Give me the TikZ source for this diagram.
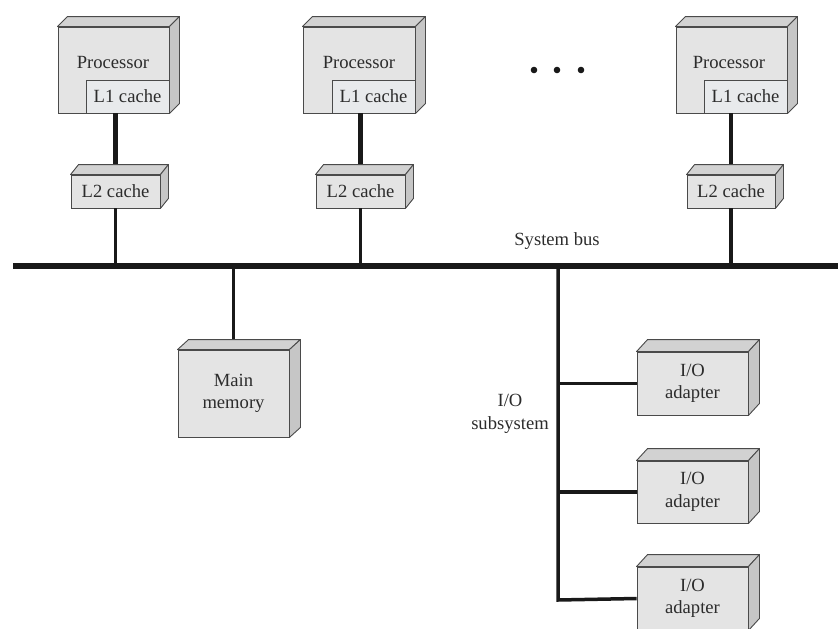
\documentclass[tikz,border=0pt]{standalone}
\usepackage{fontspec}
\setmainfont{Liberation Serif}
\usetikzlibrary{calc}

\definecolor{facefront}{HTML}{E4E4E4}
\definecolor{facetop}{HTML}{D2D2D2}
\definecolor{faceside}{HTML}{C6C6C6}
\definecolor{cachefill}{HTML}{E8EAEC}
\definecolor{edgegray}{HTML}{4A4A4A}
\definecolor{inkgray}{HTML}{2C2C2C}

\tikzset{
  unitbox/.style 2 args={draw=edgegray, fill=facefront, line width=0.9pt,
    inner sep=0pt, minimum width=#1pt, minimum height=#2pt},
  cachebox/.style={unitbox={83}{33}, fill=cachefill},
  topface/.style={draw=edgegray, fill=facetop, line width=0.9pt, line join=round},
  sideface/.style={draw=edgegray, fill=faceside, line width=0.9pt, line join=round},
  label/.style={text=inkgray, font=\fontsize{18.6}{22.5}\selectfont, align=center, inner sep=0pt},
  wire/.style={line width=3.5pt, draw=black!90},
  heavywire/.style={line width=4.2pt, draw=black!90},
  bus/.style={line width=6.5pt, draw=black!90},
}

\begin{document}
\begin{tikzpicture}[x=1pt, y=-1pt]
  \useasboundingbox (0,0) rectangle (838,629);

  % anchor points of the system bus and the I/O subsystem trunk
  \coordinate (busL) at (13,266);
  \coordinate (busR) at (838,266);
  \coordinate (ioTop) at (558,266);
  \coordinate (ioBot) at (558,600);

  % processors (front faces)
  \node[unitbox={111}{86}] (p1) at (113.5,70) {};
  \node[unitbox={112}{86}] (p2) at (359,70) {};
  \node[unitbox={111}{86}] (p3) at (731.5,70) {};

  % L1 caches sit in the lower right corner of each processor
  \node[cachebox, anchor=south east] (c1a) at (p1.south east) {};
  \node[cachebox, anchor=south east] (c1b) at (p2.south east) {};
  \node[cachebox, anchor=south east] (c1c) at (p3.south east) {};

  % L2 caches
  \node[unitbox={89}{33}] (l2a) at (115.5,191.5) {};
  \node[unitbox={89}{33}] (l2b) at (360.5,191.5) {};
  \node[unitbox={88}{33}] (l2c) at (731,191.5) {};

  % main memory and I/O adapters
  \node[unitbox={111}{87}] (mem) at (233.5,393.5) {};
  \node[unitbox={111}{63}] (io1) at (692.5,383.5) {};
  \node[unitbox={111}{62}] (io2) at (692.5,492) {};
  \node[unitbox={111}{63}] (io3) at (692.5,598.5) {};

  % connectors
  \draw[heavywire] (l2a.north) -- (l2a.north |- c1a.south);
  \draw[heavywire] (l2b.north) -- (l2b.north |- c1b.south);
  \draw[heavywire] (l2c.north) -- (l2c.north |- c1c.south);
  \draw[wire] (l2a.south) -- (l2a.south |- busL);
  \draw[wire] (l2b.south) -- (l2b.south |- busL);
  \draw[wire] (l2c.south) -- (l2c.south |- busL);
  \draw[wire] (mem.north) -- (mem.north |- busL);
  \draw[wire, line join=miter] (ioTop) -- (ioBot) -- (io3.west);
  \draw[wire] (ioTop |- io1.west) -- (io1.west);
  \draw[wire] (ioTop |- io2.west) -- (io2.west);
  \draw[bus] (busL) -- (busR);

  % top and right faces of the boxes
  \foreach \n/\dx/\dy in {p1/10/10, p2/10/10, p3/10/10, l2a/8/10, l2b/8/10, l2c/8/10,
                          mem/11/10, io1/11/12, io2/11/12, io3/11/12}{
    \filldraw[topface] (\n.north west) -- ++(\dx,-\dy)
      -- ($(\n.north east)+(\dx,-\dy)$) -- (\n.north east) -- cycle;
    \filldraw[sideface] (\n.north east) -- ++(\dx,-\dy)
      -- ($(\n.south east)+(\dx,-\dy)$) -- (\n.south east) -- cycle;
  }

  % labels
  \node[label] (tp1) at (113,63) {Processor};
  \node[label] (tp2) at (359,63) {Processor};
  \node[label] (tp3) at (729,63) {Processor};
  \foreach \c in {c1a,c1b,c1c}
    \node[label] at (\c.center) {L1 cache};
  \foreach \c in {l2a,l2b,l2c}
    \node[label] at (\c.center) {L2 cache};
  \node[label] (tmem) at (mem.center) {Main\\memory};
  \foreach \c in {io1,io2,io3}
    \node[label] at (\c.center) {I/O\\adapter};
  \node[label] (tbus) at (557,241) {System bus};
  \node[label] (tio) at (510,414) {I/O\\subsystem};

  % ellipsis between the processors
  \foreach \x in {534,557,581}
    \fill[black!90] (\x,70) circle (3.3);
\end{tikzpicture}
\end{document}
